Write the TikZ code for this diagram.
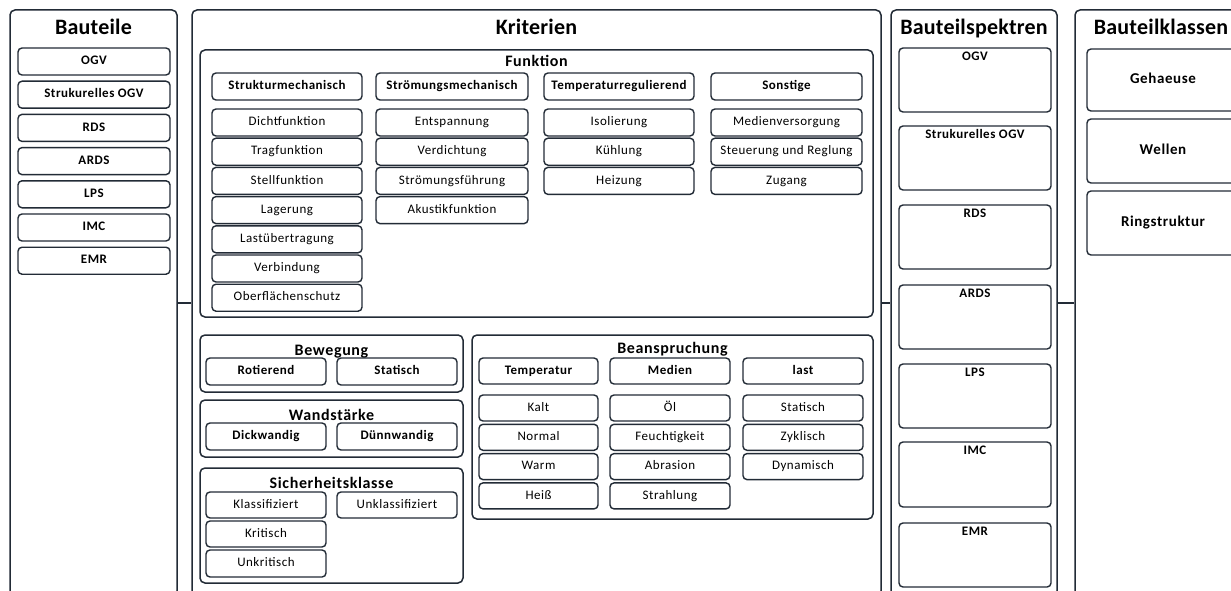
\documentclass[tikz,border=0pt]{standalone}
\usepackage{fontspec}
\setmainfont{Carlito}[LetterSpace=4]
\newfontfamily\titlefont{Carlito}[LetterSpace=1]
\definecolor{lc}{HTML}{222B36}

% box given by its corners: name, x1, y1, x2, y2, style, text
\newcommand\bx[7]{%
  \node[#6, minimum width={(#4)-(#2)}, minimum height={(#5)-(#3)}]
    (#1) at ({((#2)+(#4))/2},{((#3)+(#5))/2}) {#7};}

\tikzset{
  col/.style={draw=lc, line width=1.5pt, rounded corners=5pt, inner sep=0pt},
  grp/.style={draw=lc, line width=1.5pt, rounded corners=5pt, inner sep=0pt},
  item/.style={draw=lc, line width=1.4pt, rounded corners=4pt, inner sep=0pt,
    font=\fontsize{13}{15}\selectfont, text height=0.64em, text depth=0pt},
  head/.style={item, font=\bfseries\fontsize{13}{15}\selectfont},
  cls/.style={item, font=\bfseries\fontsize{15}{17}\selectfont},
  spec/.style={draw=lc, line width=1.4pt, rounded corners=4pt, inner sep=0pt},
  toplabel/.style={inner sep=0pt, outer sep=0pt,
    font=\bfseries\fontsize{13}{15}\selectfont, text height=0.64em, text depth=0pt},
  ttl/.style={anchor=base, inner sep=0pt, font=\titlefont\bfseries\fontsize{22}{26}\selectfont},
  sub/.style={anchor=base, inner sep=0pt, font=\bfseries\fontsize{16}{19}\selectfont},
  conn/.style={draw=lc, line width=1.5pt},
}

\begin{document}
\begin{tikzpicture}[x=1pt, y=-1pt]
\useasboundingbox (0,0) rectangle (1231,591);
\fill[white] (0,0) rectangle (1231,591);
\clip (0,0) rectangle (1231,591);

% ---- four columns ----
\bx{bauteile}{10}{10}{177}{596}{col}{}
\bx{kriterien}{192}{10}{881}{596}{col}{}
\bx{spektren}{891}{10}{1057}{596}{col}{}
\bx{klassen}{1075}{10}{1250}{596}{col}{}

\node[ttl] (tBauteile) at (93.5,35) {Bauteile};
\node[ttl] (tKriterien) at (536.5,35) {Kriterien};
\node[ttl] (tSpektren) at (974,35) {Bauteilspektren};
\node[ttl] (tKlassen) at (1161,35) {Bauteilklassen};

\draw[conn] (bauteile.east) -- (kriterien.west);
\draw[conn] (kriterien.east) -- (spektren.west);
\draw[conn] (spektren.east) -- (klassen.west);

% ---- Bauteile ----
\foreach \t [count=\i from 0] in {OGV, Strukurelles OGV, RDS, ARDS, LPS, IMC, EMR}
  \bx{bt\i}{18}{48+33.2*\i}{170}{75+33.2*\i}{head}{\t};

% ---- Funktion ----
\bx{funktion}{200}{50}{873}{317}{grp}{}
\node[sub] (tFunktion) at (536.5,66.5) {Funktion};

\bx{hStruktur}{212}{73}{362}{100}{head}{Strukturmechanisch}
\bx{hStroemung}{376}{73}{528}{100}{head}{Strömungsmechanisch}
\bx{hTemp}{544}{73}{694}{100}{head}{Temperaturregulierend}
\bx{hSonst}{711}{73}{862}{100}{head}{Sonstige}

\foreach \t [count=\i from 0] in {Dichtfunktion, Tragfunktion, Stellfunktion,
    Lagerung, Lastübertragung, Verbindung, Oberflächenschutz}
  \bx{fs\i}{212}{109+29.2*\i}{362}{136+29.2*\i}{item}{\t};
\foreach \t [count=\i from 0] in {Entspannung, Verdichtung, Strömungsführung, Akustikfunktion}
  \bx{fm\i}{376}{109+29.2*\i}{528}{136+29.2*\i}{item}{\t};
\foreach \t [count=\i from 0] in {Isolierung, Kühlung, Heizung}
  \bx{ft\i}{544}{109+29.2*\i}{694}{136+29.2*\i}{item}{\t};
\foreach \t [count=\i from 0] in {Medienversorgung, Steuerung und Reglung, Zugang}
  \bx{fo\i}{711}{109+29.2*\i}{862}{136+29.2*\i}{item}{\t};

% ---- Bewegung ----
\bx{bewegung}{200}{335}{463}{392}{grp}{}
\node[sub] (tBewegung) at (331.5,355) {Bewegung};
\bx{rotierend}{206}{358}{326}{385}{head}{Rotierend}
\bx{statisch}{337}{358}{457}{385}{head}{Statisch}

% ---- Wandstärke ----
\bx{wand}{200}{400}{463}{457}{grp}{}
\node[sub] (tWand) at (331.5,420) {Wandstärke};
\bx{dick}{206}{423}{326}{450}{head}{Dickwandig}
\bx{duenn}{337}{423}{457}{450}{head}{Dünnwandig}

% ---- Sicherheitsklasse ----
\bx{sicher}{200}{468}{463}{583}{grp}{}
\node[sub] (tSicher) at (331.5,488) {Sicherheitsklasse};
\bx{klass}{206}{492}{326}{518}{item}{Klassifiziert}
\bx{unklass}{337}{492}{457}{518}{item}{Unklassifiziert}
\bx{krit}{206}{521}{326}{547}{item}{Kritisch}
\bx{unkrit}{206}{550}{326}{577}{item}{Unkritisch}

% ---- Beanspruchung ----
\bx{bean}{472}{335}{873}{519}{grp}{}
\node[sub] (tBean) at (672.5,353) {Beanspruchung};
\bx{hTemperatur}{479}{358}{598}{384}{head}{Temperatur}
\bx{hMedien}{610}{358}{730}{384}{head}{Medien}
\bx{hLast}{743}{358}{863}{384}{head}{last}
\foreach \t [count=\i from 0] in {Kalt, Normal, Warm, Heiß}
  \bx{bk\i}{479}{395+29.3*\i}{598}{421+29.3*\i}{item}{\t};
\foreach \t [count=\i from 0] in {Öl, Feuchtigkeit, Abrasion, Strahlung}
  \bx{bm\i}{610}{395+29.3*\i}{730}{421+29.3*\i}{item}{\t};
\foreach \t [count=\i from 0] in {Statisch, Zyklisch, Dynamisch}
  \bx{bl\i}{743}{395+29.3*\i}{863}{421+29.3*\i}{item}{\t};

% ---- Bauteilspektren: name printed near the top edge ----
\foreach \t/\ya/\yb [count=\i from 0] in {OGV/48/112, Strukurelles OGV/126/190,
    RDS/205/269, ARDS/285/349, LPS/364/428, IMC/442/507, EMR/523/587}{
  \bx{sp\i}{899}{\ya}{1051}{\yb}{spec}{}
  \node[toplabel] (spt\i) at ([yshift=-10pt]sp\i.north) {\t};
}

% ---- Bauteilklassen ----
\bx{gehaeuse}{1087}{49}{1239}{111}{cls}{Gehaeuse}
\bx{wellen}{1087}{119}{1239}{183}{cls}{Wellen}
\bx{ring}{1087}{191}{1239}{255}{cls}{Ringstruktur}
\end{tikzpicture}
\end{document}
